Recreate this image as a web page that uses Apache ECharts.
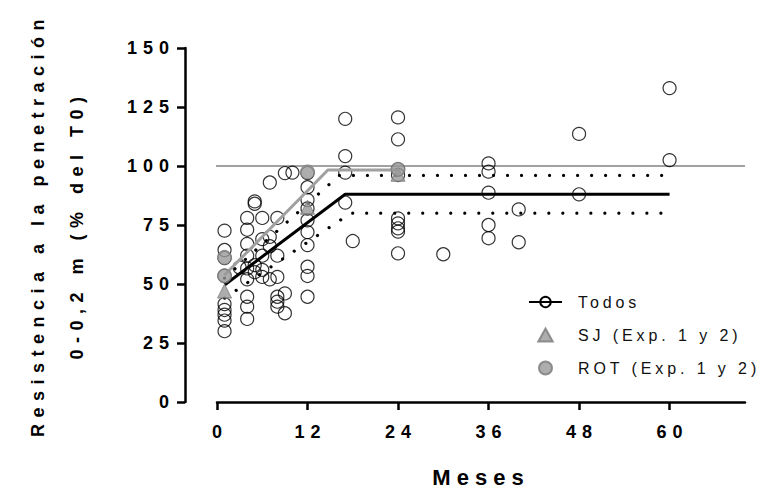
<!DOCTYPE html>
<html><head><meta charset="utf-8">
<script src="https://cdn.jsdelivr.net/npm/echarts@6/dist/echarts.min.js"></script>
<style>
html,body{margin:0;padding:0;background:#fff;}
#c{width:765px;height:490px;}
#c text[style*="fTick"],#c text[font-family*="fTick"]{letter-spacing:6px;}
#c text[style*="fTitle"],#c text[font-family*="fTitle"]{letter-spacing:6.5px;}
#c text[style*="fName"],#c text[font-family*="fName"]{letter-spacing:6px;}
#c text[style*="fLeg"],#c text[font-family*="fLeg"]{letter-spacing:3.9px;}
</style></head><body><div id="c"></div>
<script>
// ---- data ----
const xTicks = [0, 12, 24, 36, 48, 60];
const yTicks = [0, 25, 50, 75, 100, 125, 150];

const todosMonths = [
  1,1,1,1,1,1,1,1,1,
  3,
  4,4,4,4,4,4,4,4,4,
  5,5,5,5,
  6,6,6,6,6,
  7,7,7,7,
  8,8,8,8,8,8,
  9,9,9,
  10,
  12,12,12,12,12,12,12,12,12,12,
  17,17,17,17,
  18,
  24,24,24,24,24,24,24,24,24,
  30,
  36,36,36,36,36,
  40,40,
  48,48,
  60,60
];
const todosValues = [
  72.6,64.4,61,53.5,41.5,39,37,34.5,30,
  57,
  78,73,67,62,56.6,52,44.6,40.4,35.2,
  85,84,58,55,
  78,69,62,56,53,
  93,70,66,52,
  78,62,53,44.6,42.5,40.4,
  97,46,37.6,
  97.2,
  97,91,85.6,82,77,72,66.5,57.3,53.4,44.6,
  120,104.2,97.2,84.5,
  68.2,
  120.6,111.3,98.6,96.2,77.8,75.7,73.6,72.2,63,
  62.6,
  101.1,97.6,88.7,75,69.4,
  81.6,67.7,
  113.6,88,
  133,102.5
];

const sjMonths = [1, 12, 24];
const sjValues = [47, 82.5, 96.5];

const rotMonths = [1, 1, 12, 24];
const rotValues = [61.3, 53.4, 97.5, 98.6];

const fitTodosMonths = [1, 17, 60];
const fitTodosValues = [49.6, 88, 88];
const fitUpperMonths = [1, 16.2, 60];
const fitUpperValues = [52.5, 96, 96];
const fitLowerMonths = [1, 17.7, 60];
const fitLowerValues = [44, 80, 80];
const fitRotMonths = [1, 14.7, 24];
const fitRotValues = [53.8, 98.3, 98.3];

const refMonths = [-4.27, 70];
const refValues = [100, 100];

const zip = (a, b) => a.map((v, i) => [v, b[i]]);

const chart = echarts.init(document.getElementById('c'), null, {renderer: 'svg'});
const dotted = {color: '#000', width: 3.2, type: [0.01, 14], cap: 'round'};

chart.setOption({
  animation: false,
  backgroundColor: '#fff',
  grid: {left: 217, right: 20, top: 48, bottom: 88, outerBoundsMode: 'none', containLabel: false},
  xAxis: {
    type: 'value', min: 0, max: 70, interval: 12,
    splitLine: {show: false},
    axisLine: {show: true, onZero: false, lineStyle: {color: '#000', width: 2.5}},
    axisTick: {show: true, length: 8, lineStyle: {color: '#000', width: 2.5}, customValues: xTicks},
    axisLabel: {margin: 21, color: '#000', fontSize: 18, fontWeight: 'bold', fontFamily: 'Liberation Sans, fTick', customValues: xTicks, padding: [0, 0, 0, 6]},
    name: 'Meses', nameLocation: 'middle', nameGap: 64,
    nameTextStyle: {color: '#000', fontSize: 22, fontWeight: 'bold', fontFamily: 'Liberation Sans, fName'}
  },
  yAxis: {
    type: 'value', min: 0, max: 150, interval: 25, offset: 32,
    splitLine: {show: false},
    axisLine: {show: true, onZero: false, lineStyle: {color: '#000', width: 2.5}},
    axisTick: {show: true, length: 8, lineStyle: {color: '#000', width: 2.5}, customValues: yTicks},
    axisLabel: {margin: 10, color: '#000', fontSize: 18, fontWeight: 'bold', fontFamily: 'Liberation Sans, fTick', customValues: yTicks},
    name: 'Resistencia a la penetración\n0-0,2 m (% del T0)',
    nameLocation: 'middle', nameGap: 89, nameRotate: 90,
    nameTextStyle: {color: '#000', fontSize: 18, fontWeight: 'bold', lineHeight: 39, fontFamily: 'Liberation Sans, fTitle', align: 'center'}
  },
  legend: {
    orient: 'vertical', left: 523, top: 289, itemWidth: 33, itemHeight: 13, itemGap: 17,
    textStyle: {color: '#111', fontSize: 16, fontFamily: 'Liberation Sans, fLeg', padding: [0, 0, 0, 11]},
    data: [
      'Todos',
      {name: 'SJ (Exp. 1 y 2)', icon: 'path://M5,0 L10,9 L0,9 Z'},
      {name: 'ROT (Exp. 1 y 2)', icon: 'circle'}
    ]
  },
  series: [
    {
      name: 'Todos', type: 'line', data: zip(fitTodosMonths, fitTodosValues),
      symbol: 'circle', symbolSize: 12, showSymbol: false, z: 4,
      itemStyle: {color: 'rgba(255,255,255,0)', borderColor: '#000', borderWidth: 1.2},
      lineStyle: {color: '#000', width: 3}
    },
    {
      name: 'Todos', type: 'scatter', data: zip(todosMonths, todosValues),
      symbol: 'circle', symbolSize: 13, z: 2,
      itemStyle: {color: 'rgba(0,0,0,0)', borderColor: '#000', borderWidth: 1.2}
    },
    {
      name: 'ref', type: 'line', data: zip(refMonths, refValues), clip: false,
      symbol: 'none', z: 1, lineStyle: {color: '#444', width: 1}
    },
    {
      name: 'upper', type: 'line', data: zip(fitUpperMonths, fitUpperValues),
      symbol: 'none', z: 3, lineStyle: dotted
    },
    {
      name: 'lower', type: 'line', data: zip(fitLowerMonths, fitLowerValues),
      symbol: 'none', z: 3, lineStyle: dotted
    },
    {
      name: 'rotfit', type: 'line', data: zip(fitRotMonths, fitRotValues),
      symbol: 'none', z: 4, lineStyle: {color: '#a0a0a0', width: 3}
    },
    {
      name: 'SJ (Exp. 1 y 2)', type: 'scatter', data: zip(sjMonths, sjValues),
      symbol: 'triangle', symbolSize: 14, z: 5,
      itemStyle: {color: '#999', borderColor: '#7a7a7a', borderWidth: 1}
    },
    {
      name: 'ROT (Exp. 1 y 2)', type: 'scatter', data: zip(rotMonths, rotValues),
      symbol: 'circle', symbolSize: 14, z: 6,
      itemStyle: {color: '#999', borderColor: '#7a7a7a', borderWidth: 1}
    }
  ]
});
</script></body></html>
